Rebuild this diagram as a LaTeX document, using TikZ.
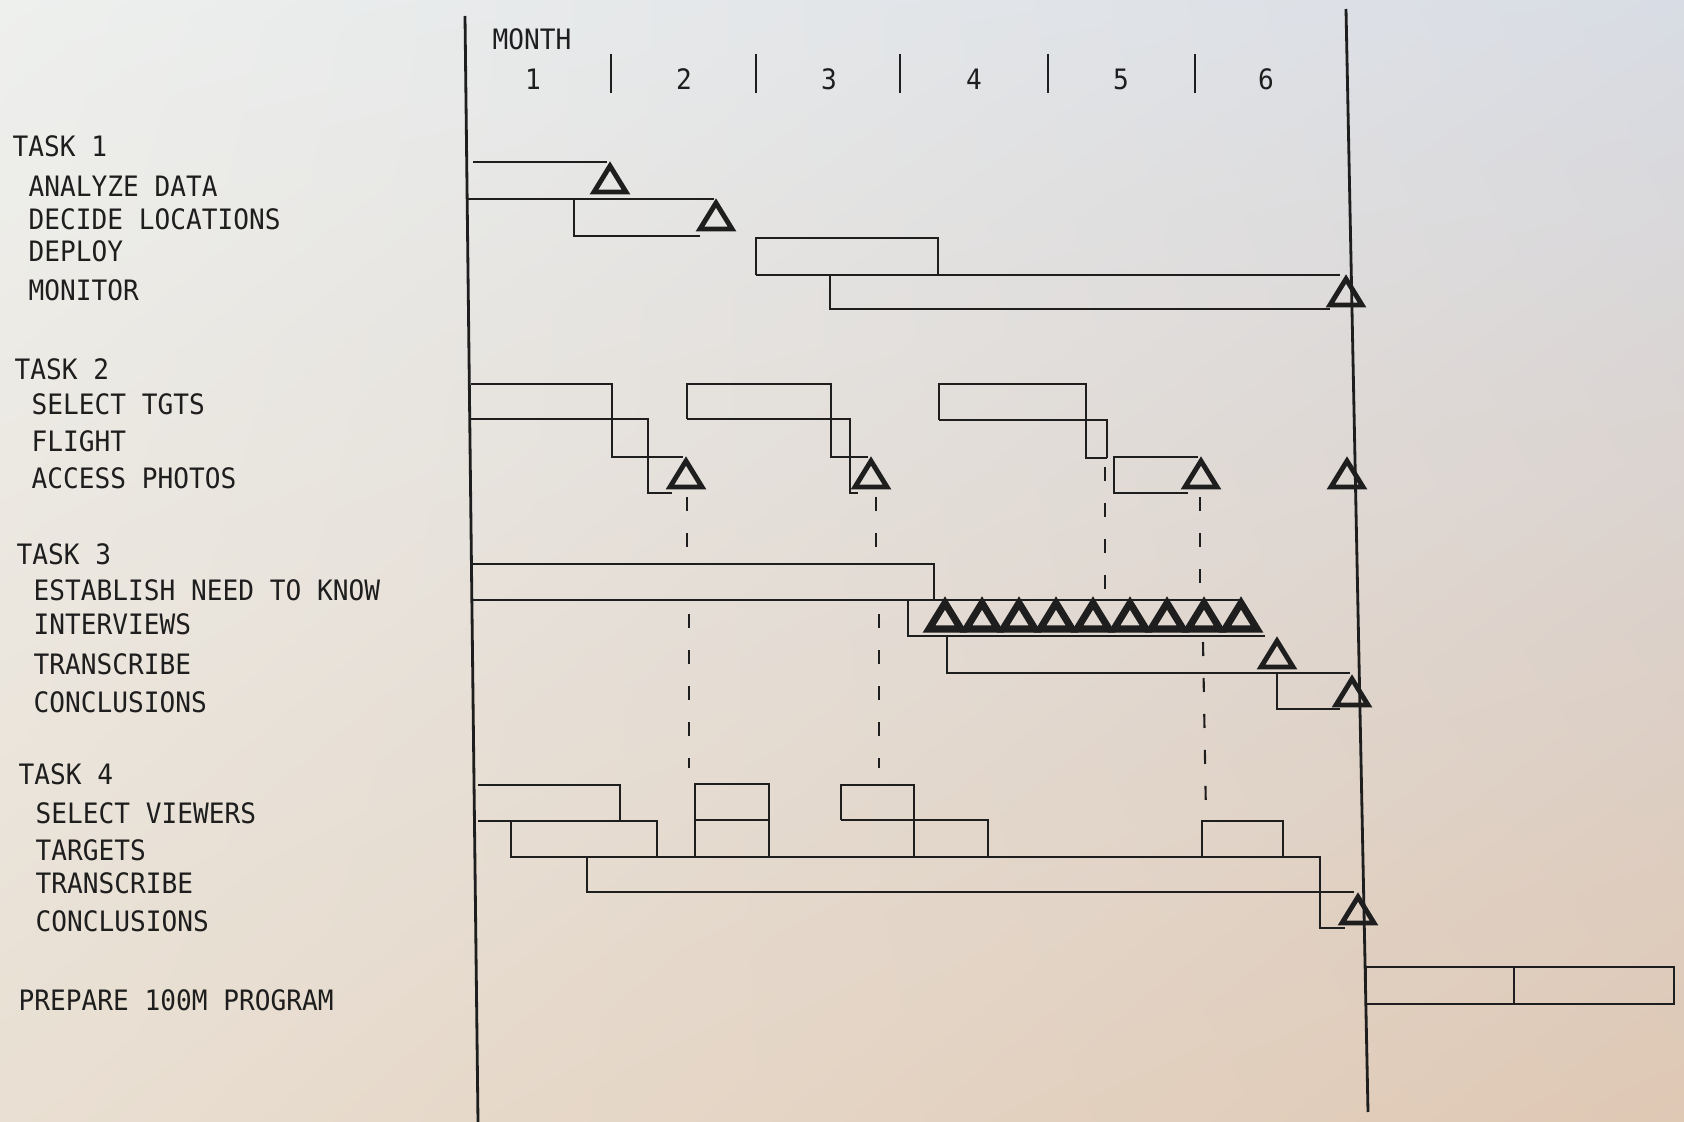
\documentclass[tikz,border=0pt]{standalone}
\usepackage{fontspec}
\usepackage{xcolor}
\usetikzlibrary{shadings}
\newfontfamily\chartfont[FakeStretch=0.93]{DejaVu Sans Mono}
\definecolor{ink}{HTML}{1E1E1E}
\definecolor{paperA}{HTML}{EEF0EE}
\definecolor{paperB}{HTML}{D8DCE4}
\definecolor{paperC}{HTML}{E9DFD2}
\definecolor{paperD}{HTML}{DFC8B4}

\begin{document}
\begin{tikzpicture}[x=0.1mm, y=-0.1mm,
    bar/.style = {draw=ink, line width=0.7pt},
    axis/.style = {draw=ink, line width=0.8pt},
    dashline/.style = {draw=ink, line width=0.6pt, dash pattern=on 1.4mm off 2.2mm},
    mile/.style = {draw=ink, line width=1.4pt, line join=miter},
    lbl/.style = {font=\chartfont\fontsize{8pt}{9pt}\selectfont, text=ink, inner sep=0pt,
                  text height=2.05mm, text depth=0pt, anchor=west},
    num/.style = {lbl, anchor=center},
    milestone/.pic = {\draw[mile] (0,4) -- (-16,30) -- (16,30) -- cycle;}]
        % Paper
        \shade[upper left=paperA, upper right=paperB, lower left=paperC, lower right=paperD]
            (0,0) rectangle (1684,1122);
        \useasboundingbox (0,0) rectangle (1684,1122);
        % Time axis
        \draw[axis] (465,16) -- (478,1122);
        \draw[axis] (1346,9) -- (1368,1112);
        \foreach \x in {611,756,900,1048,1195}
            \draw[axis] (\x,54) -- (\x,93);
        \node[num] (month) at (532,39) {MONTH};
        \node[num] (m1) at (533,79) {1};
        \node[num] (m2) at (684,79) {2};
        \node[num] (m3) at (829,79) {3};
        \node[num] (m4) at (974,79) {4};
        \node[num] (m5) at (1121,79) {5};
        \node[num] (m6) at (1266,79) {6};
        % Labels
        \node[lbl] (task1) at (12,146) {TASK 1};
        \node[lbl] (analyze) at (28,186) {ANALYZE DATA};
        \node[lbl] (decide) at (28,219) {DECIDE LOCATIONS};
        \node[lbl] (deploy) at (28,251) {DEPLOY};
        \node[lbl] (monitor) at (28,290) {MONITOR};
        \node[lbl] (task2) at (14,369) {TASK 2};
        \node[lbl] (select) at (31,404) {SELECT TGTS};
        \node[lbl] (flight) at (31,441) {FLIGHT};
        \node[lbl] (access) at (31,478) {ACCESS PHOTOS};
        \node[lbl] (task3) at (16,554) {TASK 3};
        \node[lbl] (establish) at (33,590) {ESTABLISH NEED TO KNOW};
        \node[lbl] (interviews) at (33,624) {INTERVIEWS};
        \node[lbl] (transcribeA) at (33,664) {TRANSCRIBE};
        \node[lbl] (conclusionsA) at (33,702) {CONCLUSIONS};
        \node[lbl] (task4) at (18,774) {TASK 4};
        \node[lbl] (viewers) at (35,813) {SELECT VIEWERS};
        \node[lbl] (targets) at (35,850) {TARGETS};
        \node[lbl] (transcribeB) at (35,883) {TRANSCRIBE};
        \node[lbl] (conclusionsB) at (35,921) {CONCLUSIONS};
        \node[lbl] (prepare) at (18,1000) {PREPARE 100M PROGRAM};
        % Task 1
        \draw[bar] (473,162) -- (607,162);
        \draw[bar] (468,199) -- (714,199);
        \draw[bar] (574,199) -- (574,236) -- (700,236);
        \pic at (610,162) {milestone};
        \pic at (716,199) {milestone};
        \draw[bar] (756,275) -- (756,238) -- (938,238) -- (938,275);
        \draw[bar] (756,275) -- (1340,275);
        \draw[bar] (830,275) -- (830,309) -- (1330,309);
        \pic at (1346,275) {milestone};
        % Task 2
        \draw[bar] (471,384) -- (612,384) -- (612,457) -- (683,457);
        \draw[bar] (471,419) -- (648,419) -- (648,493) -- (672,493);
        \pic at (686,457) {milestone};
        \draw[bar] (687,419) -- (687,384) -- (831,384) -- (831,457) -- (868,457);
        \draw[bar] (687,419) -- (850,419) -- (850,493) -- (858,493);
        \pic at (871,457) {milestone};
        \draw[bar] (939,420) -- (939,384) -- (1086,384) -- (1086,458) -- (1107,458);
        \draw[bar] (939,420) -- (1107,420) -- (1107,458);
        \draw[bar] (1198,457) -- (1114,457) -- (1114,493) -- (1188,493);
        \pic at (1201,457) {milestone};
        \pic at (1347,457) {milestone};
        \draw[dashline] (687,497) -- (687,557);
        \draw[dashline] (876,497) -- (876,557);
        \draw[dashline] (1105,467) -- (1105,590);
        \draw[dashline] (1200,497) -- (1200,592);
        % Task 3
        \draw[bar] (473,564) -- (934,564) -- (934,600);
        \draw[bar] (473,600) -- (1240,600);
        \draw[bar] (908,600) -- (908,636) -- (1265,636);
        \begin{scope}[mile/.append style={line width=2pt}]
            \foreach \x in {945,982,...,1241}
                \pic at (\x,599) {milestone};
        \end{scope}
        \draw[bar] (947,636) -- (947,673) -- (1350,673);
        \pic at (1277,637) {milestone};
        \draw[bar] (1277,673) -- (1277,709) -- (1340,709);
        \pic at (1352,675) {milestone};
        \draw[dashline] (689,614) -- (689,768);
        \draw[dashline] (879,614) -- (879,768);
        \draw[dashline] (1203,642) -- (1206,816);
        % Task 4
        \draw[bar] (478,785) -- (620,785) -- (620,820);
        \draw[bar] (478,821) -- (657,821) -- (657,857);
        \draw[bar] (511,821) -- (511,857) -- (1320,857) -- (1320,928) -- (1345,928);
        \draw[bar] (587,857) -- (587,892) -- (1354,892);
        \draw[bar] (695,857) -- (695,784) -- (769,784) -- (769,857);
        \draw[bar] (695,820) -- (769,820);
        \draw[bar] (841,820) -- (841,785) -- (914,785) -- (914,857);
        \draw[bar] (841,820) -- (988,820) -- (988,857);
        \draw[bar] (1202,857) -- (1202,821) -- (1283,821) -- (1283,857);
        \pic at (1358,893) {milestone};
        % Program
        \draw[bar] (1366,967) rectangle (1674,1004);
        \draw[bar] (1514,967) -- (1514,1004);
\end{tikzpicture}
\end{document}
